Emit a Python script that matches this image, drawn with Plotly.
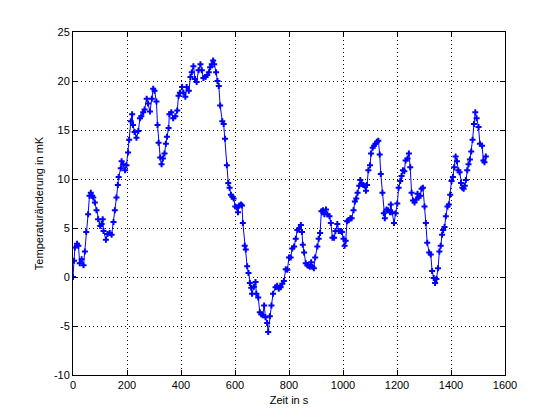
import plotly.graph_objects as go

time_s = [0, 4, 7, 15, 20, 25, 32, 39, 44, 49, 56, 61, 66, 71, 75, 81, 87, 93, 101, 106,
          110, 113, 122, 128, 136, 143, 150, 155, 161, 166, 169, 177, 180, 186, 193, 198, 204, 208, 214, 219,
          222, 228, 235, 242, 248, 253, 260, 265, 273, 278, 285, 292, 297, 302, 309, 313, 317, 323, 328, 333,
          339, 344, 348, 354, 357, 364, 371, 379, 386, 391, 396, 404, 409, 416, 421, 429, 435, 440, 446, 452,
          458, 465, 472, 477, 483, 491, 497, 503, 508, 514, 519, 523, 530, 535, 540, 545, 553, 558, 563, 570,
          575, 580, 585, 590, 595, 601, 607, 611, 616, 622, 626, 629, 636, 640, 645, 650, 655, 660, 663, 670,
          676, 679, 686, 692, 697, 703, 708, 713, 719, 723, 729, 735, 741, 750, 756, 762, 769, 775, 781, 788,
          794, 800, 806, 812, 819, 825, 831, 837, 844, 848, 851, 856, 862, 868, 872, 877, 882, 887, 892, 897,
          905, 910, 915, 920, 926, 931, 937, 942, 950, 955, 961, 967, 972, 979, 984, 990, 996, 1002, 1006, 1010,
          1015, 1021, 1027, 1032, 1039, 1044, 1049, 1054, 1060, 1064, 1069, 1075, 1081, 1085, 1089, 1094, 1100, 1104, 1110, 1115,
          1120, 1126, 1131, 1136, 1140, 1146, 1151, 1155, 1161, 1167, 1174, 1177, 1182, 1189, 1195, 1201, 1206, 1212, 1217, 1222,
          1227, 1232, 1239, 1244, 1249, 1254, 1259, 1265, 1271, 1276, 1280, 1286, 1291, 1296, 1302, 1307, 1312, 1319, 1325, 1330,
          1336, 1341, 1346, 1352, 1357, 1362, 1367, 1371, 1376, 1381, 1387, 1392, 1397, 1402, 1407, 1412, 1417, 1422, 1427, 1432,
          1437, 1442, 1447, 1451, 1455, 1460, 1465, 1470, 1475, 1480, 1485, 1490, 1495, 1502, 1507, 1515, 1520, 1524, 1529]

temp_mK = [0.0, 1.67, 3.0, 3.4, 3.2, 1.4, 1.8, 1.2, 2.6, 4.6, 6.4, 8.3, 8.6, 8.3, 8.1, 7.6, 6.8, 5.9, 5.2, 5.4,
           5.9, 4.7, 3.8, 4.4, 4.5, 4.3, 5.6, 6.8, 8.1, 9.4, 10.2, 11.1, 11.8, 11.5, 10.9, 11.4, 12.7, 14.0, 15.9, 16.6,
           15.5, 14.8, 14.2, 14.9, 16.2, 16.4, 16.8, 17.1, 18.2, 17.7, 16.9, 18.2, 19.2, 19.0, 17.9, 15.5, 13.7, 12.2, 11.5, 12.1,
           12.6, 13.6, 14.3, 15.2, 16.6, 16.8, 16.2, 16.4, 17.0, 18.5, 18.8, 19.4, 18.8, 18.4, 19.4, 19.0, 20.4, 20.9, 21.5, 20.2,
           19.9, 21.1, 21.7, 21.1, 20.3, 20.4, 20.6, 20.9, 21.4, 21.7, 22.1, 21.7, 20.9, 20.0, 19.5, 17.5, 15.9, 15.6, 14.1, 11.4,
           9.6, 9.1, 8.4, 8.2, 8.0, 7.2, 7.1, 6.6, 7.3, 7.4, 7.3, 5.5, 3.2, 2.8, 1.1, 0.4, -0.6, -1.1, -1.7, -1.0,
           -0.5, -1.7, -2.1, -3.6, -3.8, -3.9, -2.9, -4.1, -4.7, -5.6, -4.0, -2.9, -1.7, -1.05, -0.9, -1.2, -1.05, -0.7, -0.4, 0.8,
           0.75, 2.0, 2.0, 2.9, 3.1, 3.9, 4.8, 4.9, 5.3, 4.6, 3.3, 2.5, 1.4, 1.2, 1.15, 1.05, 1.5, 1.05, 0.9, 2.0,
           3.1, 3.9, 4.5, 6.7, 6.8, 6.4, 6.9, 6.4, 6.2, 5.5, 4.0, 4.0, 4.7, 5.4, 4.7, 4.7, 4.6, 3.9, 3.2, 3.7,
           5.7, 5.8, 6.0, 6.0, 6.8, 7.7, 8.0, 8.6, 9.3, 9.9, 9.5, 9.4, 9.3, 8.8, 9.4, 10.9, 11.4, 12.6, 13.2, 13.4,
           13.6, 13.8, 13.9, 12.5, 10.5, 8.6, 6.5, 6.0, 6.9, 6.8, 6.6, 7.4, 6.6, 5.5, 6.5, 7.5, 9.1, 9.8, 10.3, 10.9,
           10.8, 11.9, 12.1, 12.6, 11.2, 8.6, 7.8, 7.6, 7.9, 8.5, 8.1, 8.3, 9.0, 9.1, 7.2, 5.5, 3.5, 2.5, 2.3, 0.6,
           -0.1, -0.6, -0.2, 0.9, 2.6, 3.2, 4.3, 4.8, 5.1, 6.2, 7.2, 7.4, 8.4, 9.8, 10.2, 11.2, 12.3, 11.8, 10.9, 10.7,
           9.6, 9.1, 9.0, 9.3, 9.9, 10.9, 11.5, 12.0, 12.8, 14.0, 15.6, 16.8, 16.2, 15.3, 13.6, 13.4, 11.9, 11.7, 12.3]

x_ticks = [0, 200, 400, 600, 800, 1000, 1200, 1400, 1600]
y_ticks = [-10, -5, 0, 5, 10, 15, 20, 25]

fig = go.Figure()
fig.add_trace(go.Scatter(
    x=time_s, y=temp_mK, mode="lines+markers",
    line=dict(color="#0000ff", width=1),
    marker=dict(symbol="cross", size=5, color="#0000ff"),
    showlegend=False,
))

font_main = dict(family="Liberation Sans, Arial", size=11, color="black")

axis_common = dict(
    showline=True, linecolor="black", linewidth=1, mirror="allticks",
    ticks="inside", ticklen=5, tickcolor="black",
    showgrid=True, gridcolor="black", griddash="1px,3px", gridwidth=1,
    zeroline=False, tickfont=font_main,
)

fig.update_xaxes(range=[0, 1600], tickvals=x_ticks, ticktext=[str(v) for v in x_ticks],
                 title=dict(text="Zeit in s", standoff=6, font=font_main),
                 **axis_common)
fig.update_yaxes(range=[-10, 25], tickvals=y_ticks, ticktext=[str(v) for v in y_ticks],
                 title=dict(text="Temperaturänderung in mK", standoff=8, font=font_main),
                 **axis_common)

fig.update_layout(
    width=560, height=420,
    margin=dict(l=73, r=55, t=32, b=45),
    paper_bgcolor="white", plot_bgcolor="white",
)

fig.write_html("out.html", config={"displayModeBar": False},
               post_script="document.body.style.margin='0';")
